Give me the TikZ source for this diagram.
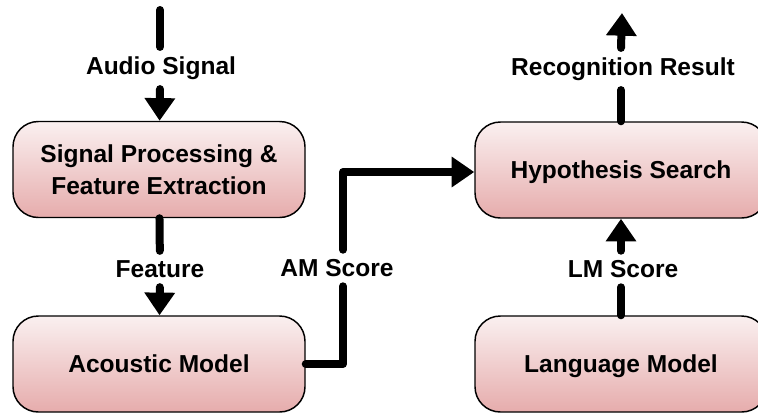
\documentclass[tikz,border=0pt]{standalone}
\usepackage{fontspec}
\setmainfont{Liberation Sans}
\usetikzlibrary{arrows.meta}

\begin{document}
\begin{tikzpicture}[x=0.75pt, y=-0.75pt,
    block/.style={draw=black, line width=1.1pt, rounded corners=19pt,
        minimum width=219pt, minimum height=72pt, align=center, text depth=0pt,
        top color={rgb,255:red,250;green,240;blue,240},
        bottom color={rgb,255:red,230;green,172;blue,172},
        font=\fontsize{18.4}{24.5}\selectfont\bfseries},
    lbl/.style={inner sep=7pt, font=\fontsize{18.4}{22}\selectfont\bfseries},
    wire/.style={line width=6pt, line cap=round, line join=round},
    tip/.style={wire, -{Triangle[length=17pt,width=22pt]}}]
\useasboundingbox (0,0) rectangle (758,412);
\clip (0,0) rectangle (758,412);

\node [block] (sig) at (159,169.5) {Signal Processing \&\\Feature Extraction};
\node [block] (am) at (159,364) {Acoustic Model};
\node [block] (hyp) at (621,170) {Hypothesis Search};
\node [block] (lm) at (621,364) {Language Model};

\node [lbl] (audio) at (161,68) {Audio Signal};
\node [lbl] (feat) at (160,269) {Feature};
\node [lbl] (amscore) at (337,268) {AM Score};
\node [lbl] (lmscore) at (623,269) {LM Score};
\node [lbl] (result) at (623,69) {Recognition Result};

\coordinate (in) at (160,10);
\coordinate (out) at (622,13);
\coordinate (turn) at (343,172);

\draw [wire] (in) -- (in |- audio.north);
\draw [tip] (in |- audio.south) -- (sig);
\draw [wire] (sig) -- (feat);
\draw [tip] (feat) -- (am);
\draw [wire] (am.east) -| (turn |- amscore.south);
\draw [tip] (turn |- amscore.north) -- (turn) -- (hyp.west |- turn);
\draw [wire] (lm) -- (lm |- lmscore.south);
\draw [tip] (lm |- lmscore.north) -- (hyp);
\draw [wire] (hyp) -- (hyp |- result.south);
\draw [tip] (hyp |- result.north) -- (out);

\end{tikzpicture}
\end{document}
